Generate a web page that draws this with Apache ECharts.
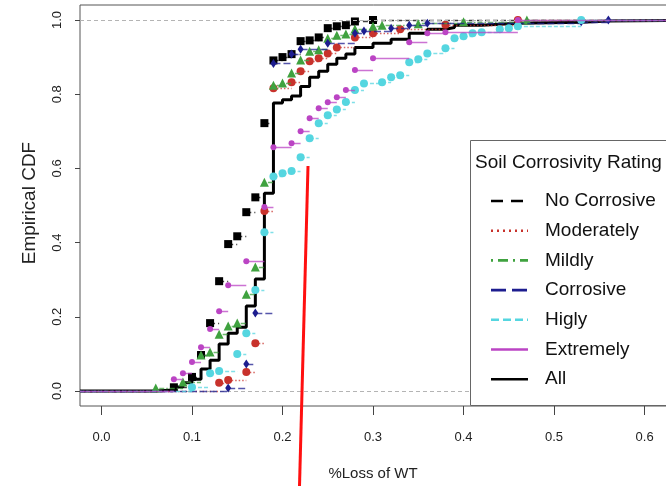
<!DOCTYPE html>
<html>
<head>
<meta charset="utf-8">
<script src="https://cdn.jsdelivr.net/npm/echarts@6/dist/echarts.min.js"></script>
<style>html,body{margin:0;padding:0;background:#fff}#c{width:666px;height:486px}</style>
</head>
<body>
<div id="c"></div>
<script>
// ---- data (x = %Loss of WT, y = empirical CDF) ----
const noCorrX = [0.08,0.10,0.11,0.12,0.13,0.14,0.15,0.16,0.17,0.18,0.19,0.20,0.21,0.22,0.23,0.24,0.25,0.26,0.27,0.28,0.30];
const noCorrY = [0.010,0.038,0.097,0.183,0.296,0.396,0.417,0.482,0.522,0.722,0.891,0.900,0.908,0.943,0.945,0.953,0.978,0.983,0.986,0.996,1.0];

const moderX = [0.13,0.14,0.16,0.17,0.18,0.19,0.21,0.22,0.23,0.24,0.25,0.26,0.28,0.30,0.33,0.38,0.46];
const moderY = [0.022,0.030,0.051,0.129,0.485,0.816,0.832,0.862,0.889,0.897,0.910,0.926,0.953,0.964,0.975,0.987,1.0];

const mildX = [0.06,0.09,0.11,0.12,0.13,0.14,0.15,0.16,0.17,0.18,0.19,0.20,0.21,0.22,0.23,0.24,0.25,0.26,0.27,0.28,0.30,0.31,0.35,0.40,0.47];
const mildY = [0.008,0.024,0.097,0.105,0.153,0.175,0.183,0.261,0.334,0.563,0.824,0.830,0.857,0.892,0.916,0.920,0.951,0.959,0.962,0.976,0.983,0.986,0.990,0.995,1.0];

const corrX = [0.14,0.16,0.17,0.19,0.21,0.22,0.25,0.28,0.29,0.32,0.34,0.36,0.53,0.56];
const corrY = [0.008,0.073,0.210,0.883,0.908,0.921,0.937,0.964,0.970,0.978,0.986,0.991,0.995,1.0];

const highX = [0.10,0.12,0.13,0.15,0.16,0.17,0.18,0.19,0.20,0.21,0.22,0.23,0.24,0.25,0.26,0.27,0.28,0.29,0.31,0.32,0.33,0.34,0.35,0.36,0.38,0.39,0.40,0.41,0.42,0.44,0.45,0.46,0.53];
const highY = [0.010,0.048,0.054,0.100,0.156,0.272,0.428,0.578,0.587,0.593,0.630,0.681,0.722,0.743,0.759,0.779,0.811,0.829,0.832,0.846,0.851,0.886,0.894,0.910,0.924,0.951,0.956,0.964,0.967,0.975,0.978,0.983,1.0];

const extrX = [0.08,0.09,0.10,0.11,0.12,0.13,0.14,0.16,0.18,0.19,0.21,0.22,0.23,0.24,0.25,0.26,0.27,0.28,0.30,0.34,0.36,0.38,0.46];
const extrY = [0.032,0.048,0.078,0.118,0.167,0.215,0.285,0.350,0.496,0.657,0.668,0.700,0.735,0.762,0.778,0.792,0.811,0.865,0.897,0.940,0.964,0.967,1.0];

const allX = [0.06,0.08,0.09,0.10,0.11,0.12,0.13,0.14,0.15,0.16,0.17,0.18,0.19,0.20,0.21,0.22,0.23,0.24,0.25,0.26,0.27,0.28,0.30,0.32,0.34,0.36,0.38,0.39,0.42,0.46,0.53,0.56];
const allY = [0.003,0.011,0.022,0.032,0.059,0.083,0.127,0.156,0.172,0.229,0.302,0.533,0.776,0.785,0.795,0.821,0.846,0.862,0.881,0.897,0.908,0.926,0.937,0.948,0.964,0.975,0.980,0.986,0.991,0.994,0.997,1.0];

const xTicks = [0.0,0.1,0.2,0.3,0.4,0.5,0.6];
const yTicks = [0.0,0.2,0.4,0.6,0.8,1.0];
const legendTitle = 'Soil Corrosivity Rating';
const groupNames = ['No Corrosive','Moderately','Mildly','Corrosive','Higly','Extremely','All'];

// ---- styling ----
const X_MIN = -0.0237, X_MAX = 0.68, Y_MIN = -0.0404, Y_MAX = 1.0404;
const FONT = '"Liberation Sans", Arial, sans-serif';
const groups = [
  {name: groupNames[0], xs: noCorrX, ys: noCorrY, color: '#000000', dash: [5,3], lg: [12,8], symbol: 'rect', size: 8},
  {name: groupNames[1], xs: moderX, ys: moderY, color: '#c8322c', dash: [1.5,2], lg: [2,4], symbol: 'circle', size: 8},
  {name: groupNames[2], xs: mildX, ys: mildY, color: '#3fa23f', dash: [1.5,2,5,2], lg: [2,5,10,5], symbol: 'triangle', size: 9},
  {name: groupNames[3], xs: corrX, ys: corrY, color: '#1d1d8f', dash: [7,3], lg: [15,6], symbol: 'diamond', size: [6,9]},
  {name: groupNames[4], xs: highX, ys: highY, color: '#55d6e0', dash: [4,2], lg: [8,4], symbol: 'circle', size: 8},
  {name: groupNames[5], xs: extrX, ys: extrY, color: '#bb44c4', dash: 'solid', lg: null, symbol: 'circle', size: 6}
];

function segments(xs, ys) {
  const out = [{coords: [[X_MIN, 0], [xs[0], 0]]}];
  for (let i = 0; i < xs.length; i++) {
    const nx = i < xs.length - 1 ? xs[i + 1] : X_MAX;
    out.push({coords: [[xs[i], ys[i]], [nx, ys[i]]]});
  }
  return out;
}

const series = [];
series.push({
  type: 'line', data: [], z: 1, silent: true,
  markLine: {silent: true, symbol: 'none', label: {show: false},
    lineStyle: {color: '#b4b4b4', type: [4,3], width: 1},
    data: [{yAxis: 0}, {yAxis: 1}]}
});
const allData = [[X_MIN, 0]].concat(allX.map((x, i) => [x, allY[i]]), [[X_MAX, 1]]);
series.push({
  name: 'All', type: 'line', step: 'end', data: allData, showSymbol: false, z: 2,
  lineStyle: {color: '#000', width: 3}, animation: false
});
groups.forEach((g, gi) => {
  series.push({
    type: 'lines', coordinateSystem: 'cartesian2d', z: 3 + gi, polyline: false,
    data: segments(g.xs, g.ys),
    lineStyle: {color: g.color, width: 1.3, type: g.dash, opacity: 0.75},
    animation: false
  });
  series.push({
    name: g.name, type: 'scatter', z: 3 + gi,
    data: g.xs.map((x, i) => [x, g.ys[i]]),
    symbol: g.symbol, symbolSize: g.size,
    itemStyle: {color: g.color, opacity: 1}, animation: false
  });
});

const graphic = [];
graphic.push({type: 'rect', z: 100, shape: {x: 470.5, y: 140.5, width: 260, height: 265},
  style: {fill: '#fff', stroke: '#666', lineWidth: 1}});
graphic.push({type: 'text', z: 101, x: 475, y: 163,
  style: {text: legendTitle, font: '19px ' + FONT, fill: '#111', verticalAlign: 'middle', align: 'left'}});
const legendStyles = groups.map(g => ({color: g.color, lg: g.lg})).concat([{color: '#000', lg: null}]);
groupNames.forEach((n, i) => {
  const y = 201 + i * 29.7;
  const s = legendStyles[i];
  graphic.push({type: 'line', z: 101, shape: {x1: 491, y1: y, x2: 528, y2: y},
    style: {stroke: s.color, lineWidth: 2.6, lineDash: s.lg || null}});
  graphic.push({type: 'text', z: 101, x: 545, y: y,
    style: {text: n, font: '19px ' + FONT, fill: '#111', verticalAlign: 'middle', align: 'left'}});
});
graphic.push({type: 'text', z: 50, x: 373, y: 474,
  style: {text: '%Loss of WT', font: '15px ' + FONT, fill: '#222', align: 'center', verticalAlign: 'middle'}});
graphic.push({type: 'text', z: 50, x: 30, y: 203, rotation: Math.PI / 2,
  style: {text: 'Empirical CDF', font: '19px ' + FONT, fill: '#222', align: 'center', verticalAlign: 'middle'}});
graphic.push({type: 'line', z: 200, shape: {x1: 308, y1: 166, x2: 299.5, y2: 486},
  style: {stroke: '#ff1010', lineWidth: 3}});

const chart = echarts.init(document.getElementById('c'), null, {renderer: 'canvas'});
chart.setOption({
  animation: false,
  backgroundColor: '#fff',
  grid: {left: 80, top: 5, width: 637, height: 401, show: true, borderColor: '#555', borderWidth: 1,
    containLabel: false, outerBoundsMode: 'none'},
  xAxis: {
    type: 'value', min: X_MIN, max: X_MAX,
    splitLine: {show: false}, axisLine: {show: false, onZero: false},
    axisTick: {show: true, length: 9, customValues: xTicks, lineStyle: {color: '#444'}},
    axisLabel: {customValues: xTicks, margin: 25, fontSize: 13, fontFamily: FONT, color: '#222',
      formatter: v => v.toFixed(1)}
  },
  yAxis: {
    type: 'value', min: Y_MIN, max: Y_MAX,
    splitLine: {show: false}, axisLine: {show: false, onZero: false},
    axisTick: {show: true, length: 5, customValues: yTicks, lineStyle: {color: '#444'}},
    axisLabel: {customValues: yTicks, rotate: 90, margin: 16, fontSize: 13, fontFamily: FONT, color: '#222',
      formatter: v => v.toFixed(1)}
  },
  series: series,
  graphic: graphic
});
</script>
</body>
</html>
